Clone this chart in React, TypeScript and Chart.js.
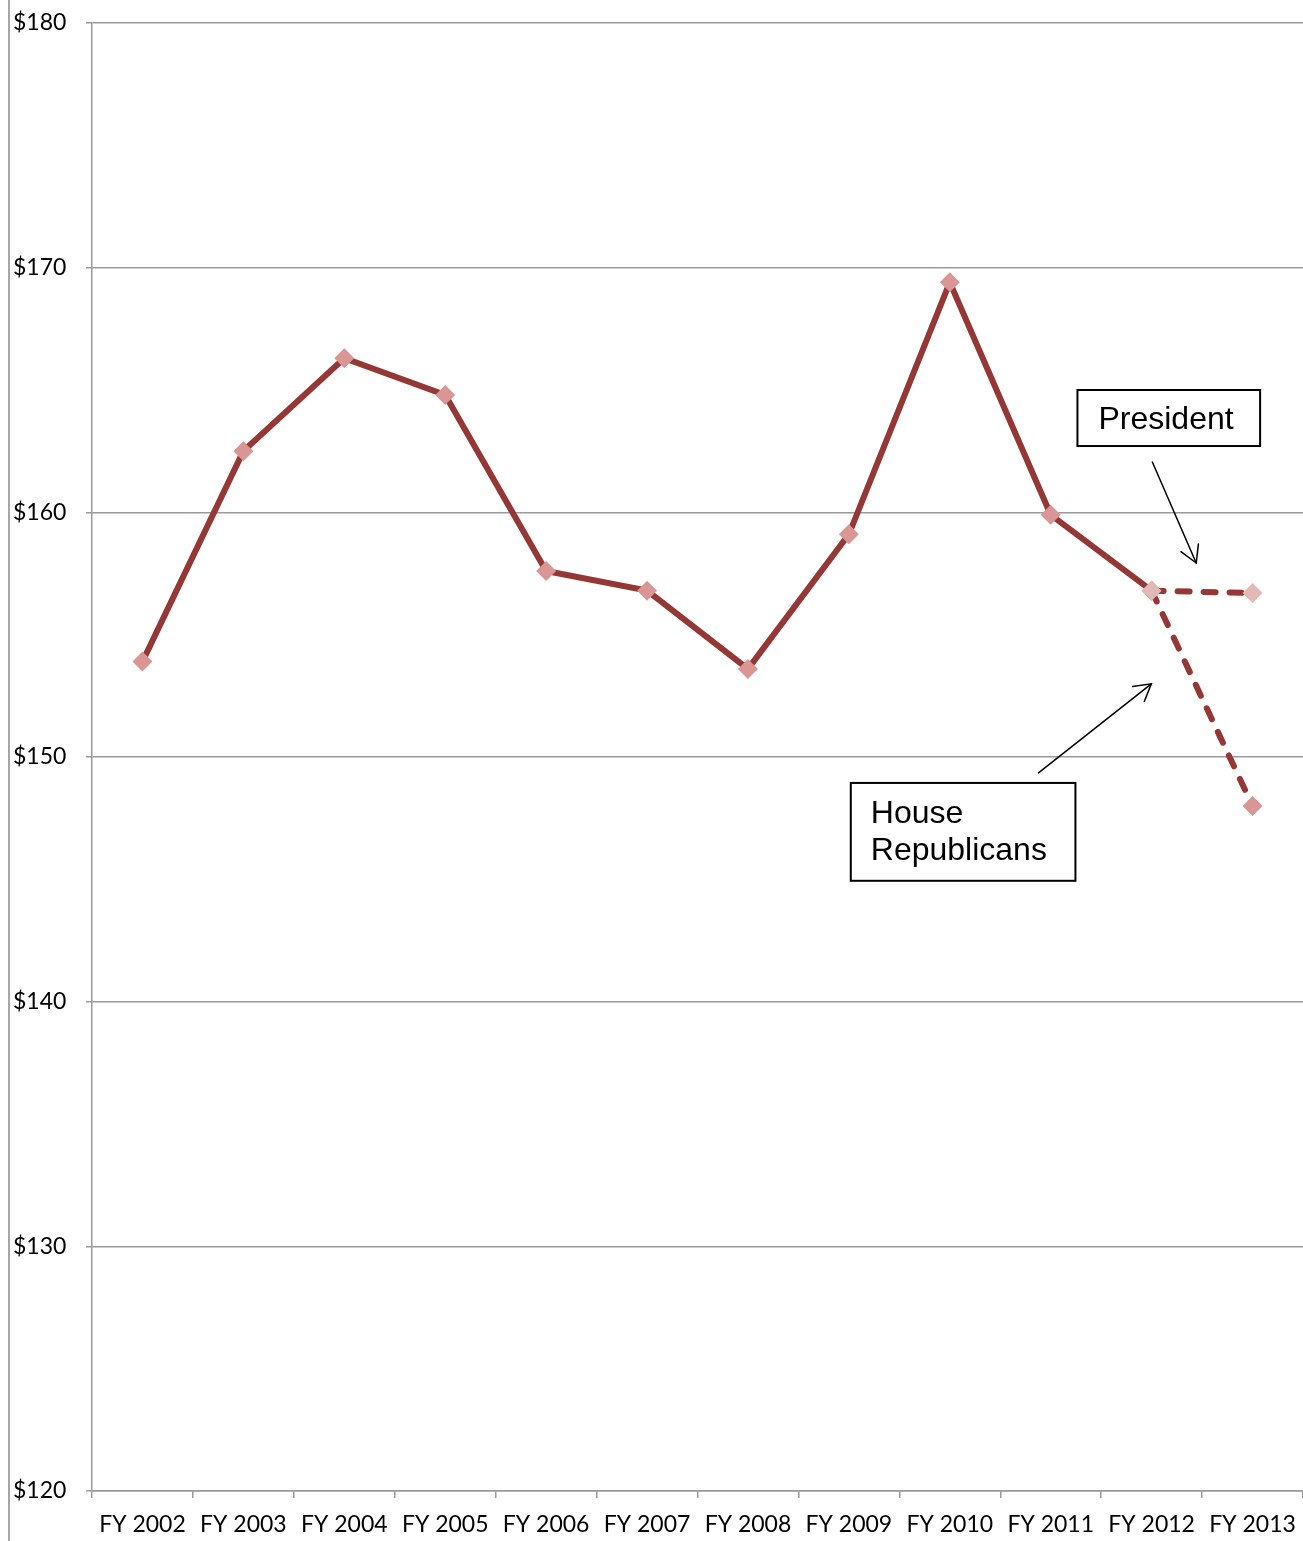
import React, { useEffect, useRef } from "react";
import { Chart, registerables } from "chart.js";

Chart.register(...registerables);

const categories = [
  "FY 2002", "FY 2003", "FY 2004", "FY 2005", "FY 2006", "FY 2007",
  "FY 2008", "FY 2009", "FY 2010", "FY 2011", "FY 2012", "FY 2013",
];
const enactedValues = [153.9, 162.5, 166.3, 164.8, 157.6, 156.8, 153.6, 159.1, 169.4, 159.9, 156.8, null];
const presidentValues = [null, null, null, null, null, null, null, null, null, null, 156.8, 156.7];
const houseValues = [null, null, null, null, null, null, null, null, null, null, 156.8, 148.0];
const yTicks = [120, 130, 140, 150, 160, 170, 180];

// annotations in data coordinates (x = category index, y = value)
const annotationBoxes = [
  { lines: ["President"], x1: 9.265, x2: 11.075, y1: 165.0, y2: 162.71 },
  { lines: ["House", "Republicans"], x1: 7.019, x2: 9.245, y1: 148.94, y2: 144.94 },
];
const annotationArrows = [
  { from: [10.007, 162.06], to: [10.442, 157.93] },
  { from: [8.879, 149.35], to: [9.997, 152.99] },
];

const LINE = "#953735";
const MARK = "#D99694";
const MARK_LIGHT = "#E3B9B8";
const GRID = "#9a9a9a";
const FONT = "Lato";

const annotationPlugin = {
  id: "annotations",
  afterDatasetsDraw(chart: any) {
    const xs = chart.scales.x;
    const ys = chart.scales.y;
    const ctx = chart.ctx;
    ctx.save();
    ctx.strokeStyle = "#000";
    ctx.lineWidth = 1.5;
    ctx.lineCap = "round";
    annotationArrows.forEach((a) => {
      const x0 = xs.getPixelForValue(a.from[0]);
      const y0 = ys.getPixelForValue(a.from[1]);
      const x1 = xs.getPixelForValue(a.to[0]);
      const y1 = ys.getPixelForValue(a.to[1]);
      ctx.beginPath();
      ctx.moveTo(x0, y0);
      ctx.lineTo(x1, y1);
      ctx.stroke();
      const ang = Math.atan2(y0 - y1, x0 - x1);
      const len = 19;
      const spread = Math.PI / 6;
      ctx.beginPath();
      ctx.moveTo(x1 + Math.cos(ang + spread) * len, y1 + Math.sin(ang + spread) * len);
      ctx.lineTo(x1, y1);
      ctx.lineTo(x1 + Math.cos(ang - spread) * len, y1 + Math.sin(ang - spread) * len);
      ctx.stroke();
    });
    annotationBoxes.forEach((b) => {
      const left = xs.getPixelForValue(b.x1);
      const right = xs.getPixelForValue(b.x2);
      const top = ys.getPixelForValue(b.y1);
      const bottom = ys.getPixelForValue(b.y2);
      ctx.fillStyle = "#fff";
      ctx.fillRect(left, top, right - left, bottom - top);
      ctx.strokeStyle = "#000";
      ctx.lineWidth = 2;
      ctx.strokeRect(left, top, right - left, bottom - top);
      ctx.fillStyle = "#000";
      ctx.font = '32px "Liberation Sans", Arial, sans-serif';
      ctx.textAlign = "left";
      ctx.textBaseline = "alphabetic";
      if (b.lines.length === 1) {
        ctx.fillText(b.lines[0], left + 21, (top + bottom) / 2 + 11);
      } else {
        b.lines.forEach((t, i) => {
          ctx.fillText(t, left + 20, top + 40 + i * 37);
        });
      }
    });
    ctx.restore();
  },
};

export default function App() {
  const ref = useRef<HTMLCanvasElement | null>(null);

  useEffect(() => {
    if (!ref.current) return;
    const lineCommon = {
      borderColor: LINE,
      borderWidth: 6,
      pointStyle: "rectRot",
      pointRadius: 10,
      pointBorderWidth: 0,
      tension: 0,
    };
    const chart = new Chart(ref.current, {
      type: "line",
      data: {
        labels: categories,
        datasets: [
          {
            ...lineCommon,
            label: "Enacted",
            data: enactedValues,
            pointBackgroundColor: MARK,
            pointBorderColor: MARK,
            order: 3,
          },
          {
            ...lineCommon,
            label: "House Republicans",
            data: houseValues,
            borderDash: [12, 14],
            borderCapStyle: "round",
            pointBackgroundColor: MARK,
            pointBorderColor: MARK,
            order: 2,
          },
          {
            ...lineCommon,
            label: "President",
            data: presidentValues,
            borderDash: [12, 14],
            borderCapStyle: "round",
            pointBackgroundColor: MARK_LIGHT,
            pointBorderColor: MARK_LIGHT,
            order: 1,
          },
        ],
      } as any,
      options: {
        animation: false,
        responsive: false,
        maintainAspectRatio: false,
        devicePixelRatio: 1,
        layout: { autoPadding: false, padding: { left: 13, top: 23, right: 0, bottom: 0 } },
        plugins: {
          legend: { display: false },
          tooltip: { enabled: false },
        },
        scales: {
          x: {
            type: "category",
            offset: true,
            grid: {
              offset: true,
              drawOnChartArea: false,
              drawTicks: true,
              tickLength: 7,
              color: GRID,
              lineWidth: 1.5,
            },
            border: { color: GRID, width: 1.5 },
            ticks: {
              font: { family: FONT, size: 23 },
              color: "#000",
              padding: 13,
              maxRotation: 0,
              autoSkip: false,
            },
            afterFit: (s: any) => {
              s.height = 50;
              s.paddingLeft = 0;
              s.paddingRight = 0;
            },
          },
          y: {
            min: yTicks[0],
            max: yTicks[yTicks.length - 1],
            afterBuildTicks: (s: any) => {
              s.ticks = yTicks.map((v) => ({ value: v }));
            },
            grid: { color: GRID, lineWidth: 1.5, tickLength: 6 },
            border: { color: GRID, width: 1.5 },
            ticks: {
              font: { family: FONT, size: 23 },
              color: "#000",
              crossAlign: "far",
              callback: (v: any) => "$" + v,
            },
            afterFit: (s: any) => {
              s.width = 79;
              s.paddingTop = 0;
              s.paddingBottom = 0;
            },
          },
        },
      },
      plugins: [annotationPlugin],
    });
    return () => chart.destroy();
  }, []);

  return (
    <div style={{ position: "absolute", left: 0, top: 0, width: 1303, height: 1541, background: "#fff" }}>
      <div style={{ position: "absolute", left: 8, top: 0, width: 2, height: 1541, background: "#a6a6a6" }} />
      <canvas
        ref={ref}
        width={1303}
        height={1541}
        style={{ position: "absolute", left: 0, top: 0, width: 1303, height: 1541 }}
      />
    </div>
  );
}
